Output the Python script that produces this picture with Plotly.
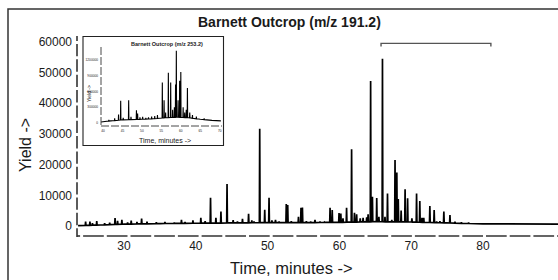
import numpy as np
import plotly.graph_objects as go

# ---------------- data: main chromatogram (m/z 191.2) ----------------
main_base_t = [23.6, 26, 30, 35, 40, 45, 50, 55, 60, 65, 70, 75, 80, 85, 90.5]
main_base_y = [100, 300, 600, 800, 900, 1000, 1100, 1100, 1200, 1400, 1300, 1000, 700, 600, 600]

main_peak_t = [24.65, 25.25, 25.6, 26.2, 27.3, 28.0, 28.75, 29.1, 29.7, 30.5, 31.0, 31.8,
               32.45, 33.2, 34.5, 35.7, 37.0, 38.0, 38.5, 39.6, 40.7, 41.3, 42.05, 42.8,
               43.5, 44.35, 45.2, 45.8, 46.5, 47.35, 47.8, 48.1, 48.9, 49.6, 50.2, 50.6,
               51.1, 51.6, 52.6, 52.8, 53.3, 54.3, 54.65, 54.85, 55.4, 56.0, 56.6, 57.3,
               57.9, 58.7, 59.0, 59.95, 60.2, 60.5, 61.0, 61.7, 62.1, 62.4, 62.9, 63.3,
               63.8, 64.0, 64.35, 64.6, 65.2, 65.5, 66.0, 66.35, 66.7, 67.3, 67.75, 68.0,
               68.2, 68.6, 69.15, 69.5, 70.1, 70.75, 71.2, 71.5, 71.75, 72.6, 73.2, 73.55,
               74.0, 74.55, 75.4, 76.1, 77.0, 78.0]
main_peak_h = [1400, 1400, 900, 1600, 900, 1100, 2600, 1700, 2000, 1200, 1800, 1300,
               2400, 1400, 1200, 1300, 1100, 2000, 1300, 1800, 2700, 1600, 9200, 2700,
               4700, 13700, 1900, 1500, 2300, 4000, 1800, 1500, 31700, 5300, 9200, 1800,
               2000, 1500, 7200, 6800, 1600, 3000, 5900, 6000, 1600, 1400, 2000, 1400,
               1300, 5900, 5200, 4200, 4100, 2500, 5900, 25000, 4300, 3800, 2500, 2700,
               2800, 3800, 47200, 9500, 9100, 3000, 54500, 3000, 10600, 2000, 21500, 17400,
               8800, 5000, 12000, 9000, 2500, 10600, 8100, 2700, 2700, 6500, 5200, 1500,
               1600, 4700, 3600, 1400, 1200, 1100]

main_xticks = [30, 40, 50, 60, 70, 80, 90]
main_yticks = [0, 10000, 20000, 30000, 40000, 50000, 60000]
bracket_t = [65.8, 81.1]
bracket_level = 59500
bracket_foot = 58500

# ---------------- data: inset chromatogram (m/z 253.2) ----------------
ins_base_t = [39.5, 42, 45, 50, 53, 56, 59, 62, 65, 68, 70.3]
ins_base_y = [20000, 40000, 60000, 70000, 80000, 100000, 110000, 100000, 70000, 50000, 40000]

ins_peak_t = [41.5, 43.0, 44.0, 44.55, 45.2, 46.6, 47.2, 48.6, 48.9, 49.5, 50.2, 51.0,
              51.7, 52.5, 53.3, 54.0, 55.25, 55.7, 56.1, 56.8, 57.4, 57.9, 58.35, 58.65,
              58.85, 59.3, 59.7, 60.0, 60.6, 61.0, 61.4, 61.7, 62.3, 63.0, 64.0, 66.0]
ins_peak_h = [60000, 90000, 160000, 420000, 100000, 430000, 120000, 240000, 180000, 110000,
              120000, 100000, 110000, 120000, 130000, 150000, 770000, 430000, 200000, 955000,
              770000, 250000, 300000, 730000, 1370000, 430000, 800000, 970000, 300000,
              200000, 250000, 665000, 200000, 150000, 120000, 90000]

ins_xticks = [40, 45, 50, 55, 60, 65, 70]
ins_yticks = [0, 300000, 600000, 900000, 1200000]


def stick_trace(base_t, base_y, peak_t, peak_h, half=0.05):
    """Build a line from a baseline and stick-like peaks."""
    pts = list(zip(base_t, base_y))
    for t, h in zip(peak_t, peak_h):
        foot = float(np.interp(t, base_t, base_y))
        pts += [(t - half, foot), (t, h), (t + half, foot)]
    pts.sort(key=lambda p: p[0])
    return [p[0] for p in pts], [p[1] for p in pts]


mx, my = stick_trace(main_base_t, main_base_y, main_peak_t, main_peak_h)
ix, iy = stick_trace(ins_base_t, ins_base_y, ins_peak_t, ins_peak_h, half=0.06)

FONT = "Liberation Sans, Arial, sans-serif"
INK = "#1a1a1a"

fig = go.Figure()
fig.add_trace(go.Scatter(x=mx, y=my, mode="lines", line=dict(color="black", width=1.7),
                         xaxis="x", yaxis="y", hoverinfo="skip", showlegend=False))
fig.add_trace(go.Scatter(x=[bracket_t[0], bracket_t[0], bracket_t[1], bracket_t[1]],
                         y=[bracket_foot, bracket_level, bracket_level, bracket_foot],
                         mode="lines", line=dict(color="#555555", width=1.4),
                         xaxis="x", yaxis="y", hoverinfo="skip", showlegend=False))
fig.add_trace(go.Scatter(x=ix, y=iy, mode="lines", line=dict(color="black", width=1.1),
                         xaxis="x2", yaxis="y2", hoverinfo="skip", showlegend=False))

# geometry (pixels) of the plot area
L, R, T, B = 77, 558, 36, 236
W, H = R - L, B - T


def px(x):
    return (x - L) / W


def py(y):
    return (B - y) / H


fig.update_layout(
    width=558, height=280,
    margin=dict(l=L, r=558 - R, t=T, b=280 - B, pad=0),
    paper_bgcolor="white", plot_bgcolor="white",
    font=dict(family=FONT, color=INK),
    showlegend=False,
    xaxis=dict(domain=[0, 1], range=[23.45, 90.45], tickvals=main_xticks,
               showgrid=False, zeroline=False, showline=False, ticks="",
               tickfont=dict(size=12, family=FONT, color=INK), ticklabelstandoff=1),
    yaxis=dict(domain=[0, 1], range=[-3257, 61890], tickvals=main_yticks, tickformat="d",
               showgrid=False, zeroline=False, showline=False, ticks="",
               tickfont=dict(size=12, family=FONT, color=INK), ticklabelstandoff=4),
    xaxis2=dict(domain=[px(101), px(221)], range=[39.49, 70.33], anchor="y2",
                tickvals=ins_xticks, showgrid=False, zeroline=False, showline=False,
                ticks="", tickfont=dict(size=3.2, family=FONT, color=INK), ticklabelstandoff=2),
    yaxis2=dict(domain=[py(126), py(47)], range=[-57000, 1443000], anchor="x2",
                tickvals=ins_yticks, tickformat="d", showgrid=False, zeroline=False,
                showline=False, ticks="", tickfont=dict(size=3.2, family=FONT, color=INK),
                ticklabelstandoff=2),
)

shapes = []
# outer frame
shapes.append(dict(type="rect", xref="paper", yref="paper", x0=px(8), x1=px(600),
                   y0=py(300), y1=py(9), line=dict(color="#333333", width=1.5),
                   fillcolor="rgba(0,0,0,0)", layer="below"))
# inset frame
shapes.append(dict(type="rect", xref="paper", yref="paper", x0=px(83), x1=px(223.5),
                   y0=py(145.5), y1=py(36.5), line=dict(color="#222222", width=1.1),
                   fillcolor="white", layer="below"))
# main dashed axis lines
axc = "#333333"
shapes.append(dict(type="line", xref="paper", yref="paper", x0=px(77), x1=px(80.1),
                   y0=0, y1=0, line=dict(color=axc, width=1.6)))
shapes.append(dict(type="line", xref="paper", yref="paper", x0=px(83.1), x1=px(570),
                   y0=0, y1=0, line=dict(color=axc, width=1.6, dash="20.7px,3px")))
shapes.append(dict(type="line", xref="paper", yref="paper", x0=0, x1=0,
                   y0=py(36), y1=py(41), line=dict(color=axc, width=1.6)))
shapes.append(dict(type="line", xref="paper", yref="paper", x0=0, x1=0,
                   y0=py(44), y1=py(237), line=dict(color=axc, width=1.6, dash="12.35px,3px")))
# inset dashed axis lines
shapes.append(dict(type="line", xref="paper", yref="paper", x0=px(101), x1=px(222),
                   y0=py(126), y1=py(126), line=dict(color=axc, width=0.9, dash="8px,2px")))
shapes.append(dict(type="line", xref="paper", yref="paper", x0=px(101), x1=px(101),
                   y0=py(47), y1=py(126), line=dict(color=axc, width=0.9, dash="8px,2px")))
fig.update_layout(shapes=shapes)

ann = []
ann.append(dict(text="<b>Barnett Outcrop (m/z 191.2)</b>", x=px(289.5), y=py(22),
                font=dict(size=14, family=FONT, color=INK)))
ann.append(dict(text="Time, minutes ->", x=px(291), y=py(268),
                font=dict(size=16.5, family=FONT, color=INK)))
ann.append(dict(text="Yield ->", x=px(25.5), y=py(145.5), textangle=-90,
                font=dict(size=16, family=FONT, color=INK)))
ann.append(dict(text="<b>Barnett Outcrop (m/z 253.2)</b>", x=px(166.7), y=py(44),
                font=dict(size=5.5, family=FONT, color=INK)))
ann.append(dict(text="Time, minutes ->", x=px(165), y=py(140),
                font=dict(size=7, family=FONT, color=INK)))
ann.append(dict(text="Yield ->", x=px(89), y=py(94), textangle=-90,
                font=dict(size=5, family=FONT, color=INK)))
for a in ann:
    a.update(xref="paper", yref="paper", showarrow=False, xanchor="center",
             yanchor="middle")
fig.update_layout(annotations=ann)

fig.write_html("out.html",
               config={"displayModeBar": False, "staticPlot": True},
               post_script="document.body.style.margin='0px';"
                           "document.body.style.overflow='hidden';")
